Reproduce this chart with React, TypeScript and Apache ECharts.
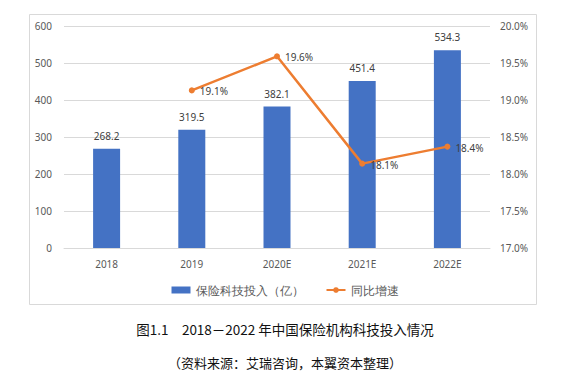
import React, { useEffect, useRef } from "react";
import * as echarts from "echarts";

const categories = ["2018", "2019", "2020E", "2021E", "2022E"];
const investment = [268.2, 319.5, 382.1, 451.4, 534.3];
const growth = [null, 19.13, 19.59, 18.14, 18.37];
const growthLabels = ["", "19.1%", "19.6%", "18.1%", "18.4%"];
const barName = "保险科技投入（亿）";
const lineName = "同比增速";
const caption = "图1.1　2018－2022 年中国保险机构科技投入情况";
const source = "（资料来源：艾瑞咨询，本翼资本整理）";

export default function App() {
  const ref = useRef<HTMLDivElement>(null);
  useEffect(() => {
    const chart = echarts.init(ref.current!, null, { renderer: "svg" });
    const font = "Noto Sans, sans-serif";
    chart.setOption({
      animation: false,
      textStyle: { fontFamily: font },
      grid: { left: 64, right: 80, top: 26, bottom: 139 },
      legend: {
        top: 279,
        left: "center",
        itemGap: 22,
        itemWidth: 19,
        itemHeight: 7,
        textStyle: { fontSize: 12, color: "#595959", fontFamily: font },
        data: [
          { name: barName, icon: "rect" },
          { name: lineName },
        ],
      },
      graphic: [
        {
          type: "rect",
          shape: { x: 29.5, y: 14.5, width: 507, height: 290 },
          style: { fill: "none", stroke: "#d9d9d9", lineWidth: 1 },
          silent: true,
        },
        {
          type: "text",
          left: "center",
          top: 322,
          style: { text: caption, fontSize: 13.5, fill: "#111", fontFamily: "Noto Sans CJK SC", fontWeight: "normal" },
        },
        {
          type: "text",
          left: "center",
          top: 356,
          style: { text: source, fontSize: 13, fill: "#111", fontFamily: "Noto Sans CJK SC", fontWeight: "normal" },
        },
      ],
      xAxis: {
        type: "category",
        data: categories,
        axisLine: { lineStyle: { color: "#d9d9d9" } },
        axisTick: { show: false },
        axisLabel: { color: "#595959", fontSize: 10, margin: 11 },
      },
      yAxis: [
        {
          type: "value",
          min: 0,
          max: 600,
          interval: 100,
          axisLine: { show: false },
          axisTick: { show: false },
          axisLabel: { color: "#595959", fontSize: 10, margin: 12 },
          splitLine: { lineStyle: { color: "#d9d9d9" } },
        },
        {
          type: "value",
          min: 17,
          max: 20,
          interval: 0.5,
          axisLine: { show: false },
          axisTick: { show: false },
          splitLine: { show: false },
          axisLabel: {
            color: "#595959",
            fontSize: 10,
            margin: 10,
            formatter: (v: number) => v.toFixed(1) + "%",
          },
        },
      ],
      series: [
        {
          name: barName,
          type: "bar",
          data: investment,
          barWidth: 27,
          itemStyle: { color: "#4472C4" },
          label: {
            show: true,
            position: "top",
            distance: 8,
            color: "#404040",
            fontSize: 10,
            formatter: (p: any) => p.value.toFixed(1),
          },
        },
        {
          name: lineName,
          type: "line",
          yAxisIndex: 1,
          data: growth,
          connectNulls: false,
          symbol: "circle",
          symbolSize: 6,
          lineStyle: { color: "#ED7D31", width: 2.5 },
          itemStyle: { color: "#ED7D31" },
          label: {
            show: true,
            position: "right",
            distance: 5,
            offset: [0, 1],
            color: "#404040",
            fontSize: 10,
            formatter: (p: any) => growthLabels[p.dataIndex],
          },
        },
      ],
    });
    return () => chart.dispose();
  }, []);
  return (
    <div
      ref={ref}
      style={{ position: "fixed", left: 0, top: 0, width: 570, height: 387, background: "#fff" }}
    />
  );
}
